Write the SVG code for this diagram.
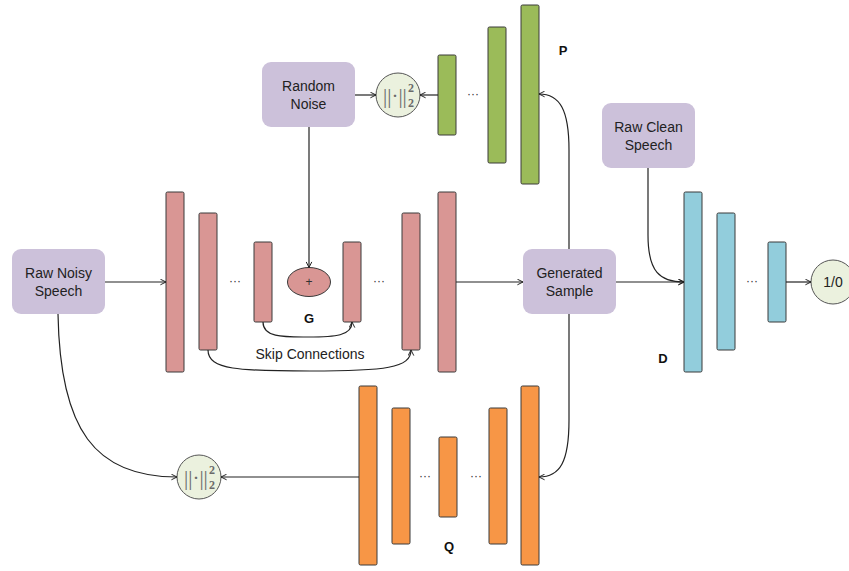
<svg xmlns="http://www.w3.org/2000/svg" width="849" height="571" viewBox="0 0 849 571">
<style>
.box{fill:#CCC1DA;stroke:none}
.lbl{font-family:"Liberation Sans",Arial,sans-serif;font-size:14px;fill:#222;text-anchor:middle}
.bold{font-family:"Liberation Sans",Arial,sans-serif;font-size:13px;font-weight:bold;fill:#111;text-anchor:middle}
.dots{font-family:"Liberation Sans",Arial,sans-serif;font-size:12px;fill:#333;text-anchor:middle}
.red{fill:#D99694;stroke:#3a3a3a;stroke-width:1}
.grn{fill:#9BBB59;stroke:#3a3a3a;stroke-width:1}
.org{fill:#F79646;stroke:#3a3a3a;stroke-width:1}
.blu{fill:#92CDDC;stroke:#3a3a3a;stroke-width:1}
.circ{fill:#EBF1DE;stroke:#555;stroke-width:1}
.norm{font-family:"Liberation Serif","Times New Roman",serif;fill:#6a6a6a}
.conn path{fill:none;stroke:#222;stroke-width:1.2;marker-end:url(#arr)}
</style>
<defs>
<marker id="arr" viewBox="0 0 10 10" refX="9" refY="5" markerWidth="7" markerHeight="7" markerUnits="userSpaceOnUse" orient="auto">
<path d="M1,1 L9,5 L1,9" fill="none" stroke="#222" stroke-width="1.4"/>
</marker>
</defs>

<g id="random-noise"><rect class="box" x="262" y="62" width="93" height="65" rx="9"/><text class="lbl" x="308.5" y="91">Random</text><text class="lbl" x="308.5" y="109">Noise</text></g>
<g id="raw-noisy"><rect class="box" x="12" y="249" width="93" height="65" rx="9"/><text class="lbl" x="58.5" y="278">Raw Noisy</text><text class="lbl" x="58.5" y="296">Speech</text></g>
<g id="generated"><rect class="box" x="523" y="249" width="93" height="65" rx="9"/><text class="lbl" x="569.5" y="278">Generated</text><text class="lbl" x="569.5" y="296">Sample</text></g>
<g id="raw-clean"><rect class="box" x="602" y="103" width="93" height="65" rx="9"/><text class="lbl" x="648.5" y="132">Raw Clean</text><text class="lbl" x="648.5" y="150">Speech</text></g>

<g id="norm-top"><circle class="circ" cx="398" cy="95" r="22"/><text class="norm" x="383" y="103" font-size="21">||·||</text><text class="norm" x="408" y="92" font-size="12" font-weight="bold">2</text><text class="norm" x="408" y="107" font-size="12" font-weight="bold">2</text></g>
<g id="norm-bottom"><circle class="circ" cx="199" cy="477" r="22"/><text class="norm" x="184" y="485" font-size="21">||·||</text><text class="norm" x="209" y="474" font-size="12" font-weight="bold">2</text><text class="norm" x="209" y="489" font-size="12" font-weight="bold">2</text></g>
<g id="out"><circle class="circ" cx="833" cy="282" r="22"/><text class="lbl" x="833" y="287">1/0</text></g>

<g id="P"><rect class="grn" x="438" y="55" width="18" height="80" rx="1.5"/><rect class="grn" x="488" y="27" width="18" height="136" rx="1.5"/><rect class="grn" x="521" y="5" width="18" height="179" rx="1.5"/><text class="dots" x="473" y="98">···</text><text class="bold" x="563" y="55">P</text></g>

<g id="G"><rect class="red" x="166" y="192" width="18" height="180" rx="1.5"/><rect class="red" x="199" y="213" width="18" height="137" rx="1.5"/><rect class="red" x="254" y="242" width="18" height="80" rx="1.5"/><ellipse class="red" cx="309" cy="282" rx="21.5" ry="14.5"/><text class="dots" x="309" y="286" font-size="11">+</text><rect class="red" x="343" y="242" width="18" height="80" rx="1.5"/><rect class="red" x="402" y="213" width="18" height="137" rx="1.5"/><rect class="red" x="438" y="192" width="18" height="180" rx="1.5"/><text class="dots" x="235" y="285">···</text><text class="dots" x="379" y="285">···</text><text class="bold" x="309" y="323">G</text><text class="lbl" x="310" y="359">Skip Connections</text></g>

<g id="D"><rect class="blu" x="684" y="192" width="18" height="180" rx="1.5"/><rect class="blu" x="717" y="213" width="18" height="137" rx="1.5"/><rect class="blu" x="768" y="242" width="18" height="80" rx="1.5"/><text class="dots" x="752" y="285">···</text><text class="bold" x="663" y="363">D</text></g>

<g id="Q"><rect class="org" x="359" y="386" width="18" height="179" rx="1.5"/><rect class="org" x="392" y="408" width="18" height="136" rx="1.5"/><rect class="org" x="439" y="437" width="18" height="80" rx="1.5"/><rect class="org" x="489" y="408" width="18" height="136" rx="1.5"/><rect class="org" x="521" y="386" width="18" height="179" rx="1.5"/><text class="dots" x="425" y="480">···</text><text class="dots" x="476" y="480">···</text><text class="bold" x="449" y="551">Q</text></g>

<g id="connectors" class="conn">
<path d="M355,95 L376,95"/>
<path d="M438,95 L420,95"/>
<path d="M309,127 L309,267.5"/>
<path d="M105,282 L166,282"/>
<path d="M456,282 L523,282"/>
<path d="M616,282 L684,282"/>
<path d="M786,282 L811,282"/>
<path d="M263,322 C263,338 285,337 308,337 C335,337 352,336 352,322"/>
<path d="M208,350 C208,370 240,371 310,371 C385,371 411,368 411,350"/>
<path d="M569,249 L569,150 C569,110 560,94 539,94"/>
<path d="M569,314 L569,420 C569,462 560,477 539,477"/>
<path d="M648,168 L648,235 C648,272 660,282 684,282"/>
<path d="M359,477 L221,477"/>
<path d="M58,314 C60,430 95,477 177,477"/>
</g>
</svg>
